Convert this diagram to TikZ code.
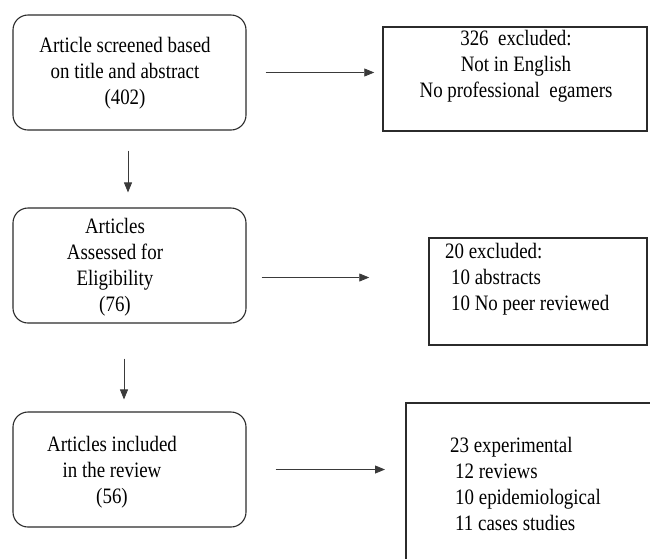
\documentclass[tikz,border=0pt]{standalone}
\usepackage{fontspec}
\setmainfont{Liberation Serif}[FakeStretch=0.86]
\usepackage{tikz}
\usetikzlibrary{positioning, arrows.meta, calc}
\definecolor{char}{HTML}{2B2B2B}
\definecolor{dim}{HTML}{3A3A3A}

\begin{document}
\begin{tikzpicture}[
  x=1pt, y=-1pt,
  font=\fontsize{22}{26}\selectfont,
  stage/.style={rectangle, rounded corners=15pt, draw=char, line width=1.1pt,
                minimum width=233pt, minimum height=115pt, inner sep=0pt},
  excl/.style={rectangle, draw=char, line width=1.5pt, inner sep=0pt},
  txt/.style={inner sep=0pt, align=center, color=black},
  ltxt/.style={inner sep=0pt, align=left, anchor=west, color=black},
  arr/.style={-{Triangle[length=10pt, width=8pt]}, line width=0.8pt, color=dim}
]
\useasboundingbox (0,0) rectangle (650,558);
\clip (0,0) rectangle (650,558);
% Screening row
\node[stage] (b1) at (129.5,72.5) {};
\node[txt] (t1) at (125,73) {Article screened based\\on title and abstract\\(402)};
\node[excl, minimum width=264pt, minimum height=104pt] (b2) at (515,79) {};
\node[txt] (t2) at (516,66) {326\ \ excluded:\\Not in English\\No professional\ \ egamers};
% Eligibility row
\node[stage] (b3) at (129.5,265.5) {};
\node[txt] (t3) at (115,267.5) {Articles\\Assessed for\\Eligibility\\(76)};
\node[excl, minimum width=218pt, minimum height=107pt] (b4) at (538,291.5) {};
\node[ltxt] (t4) at (445,279.5)
  {20 excluded:\\\hspace*{6pt}10 abstracts\\\hspace*{6pt}10 No peer reviewed};
% Included row
\node[stage] (b5) at (129.5,469.5) {};
\node[txt] (t5) at (112,472.5) {Articles included\\in the review\\(56)};
\node[excl, anchor=north west, minimum width=270pt, minimum height=180pt] (b6) at (405,402) {};
\node[ltxt] (t6) at (450,483.5)
  {23 experimental\\\hspace*{5pt}12 reviews\\\hspace*{5pt}10 epidemiological\\\hspace*{5pt}11 cases studies};
% Exclusion arrows
\draw[arr, shorten <=19pt, shorten >=8pt] (b1.east) -- (b1.east -| b2.west);
\draw[arr, shorten <=15pt, shorten >=59pt] ([yshift=-12pt]b3.east) -- ([yshift=-12pt]b3.east -| b4.west);
\draw[arr, shorten <=29pt, shorten >=20pt] (b5.east) -- (b5.east -| b6.west);
% Downward flow
\draw[arr, shorten <=20pt, shorten >=15pt] ([xshift=-1.5pt]b1.south) -- ([xshift=-1.5pt]b3.north);
\draw[arr, shorten <=35pt, shorten >=12pt] ([xshift=-5.5pt]b3.south) -- ([xshift=-5.5pt]b5.north);
\end{tikzpicture}
\end{document}
